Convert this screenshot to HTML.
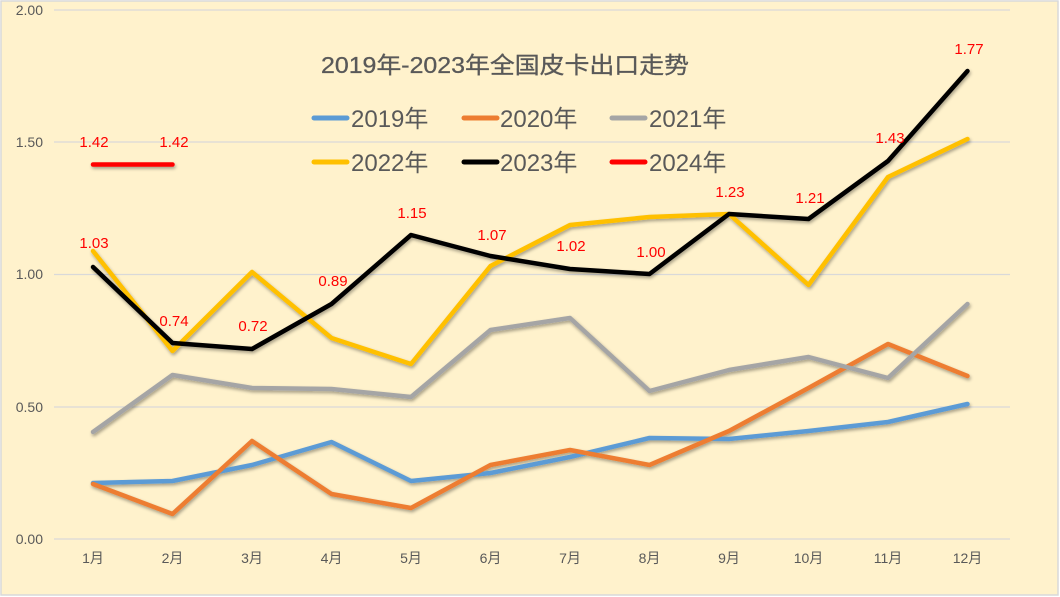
<!DOCTYPE html>
<html><head><meta charset="utf-8"><style>
body{margin:0;background:#fff}
svg{display:block;font-family:"Liberation Sans","Noto Sans CJK SC",sans-serif}
</style></head><body>
<svg width="1060" height="597" viewBox="0 0 1060 597">
<defs><filter id="sh" x="-5%" y="-5%" width="110%" height="120%"><feDropShadow dx="1" dy="2" stdDeviation="1.5" flood-color="#000" flood-opacity="0.35"/></filter></defs>
<rect x="1" y="1" width="1057" height="594" fill="#FFF2CC" stroke="#d9d9d9" stroke-width="1.5"/>
<g stroke="#d9d9d9" stroke-width="1.2">
<line x1="54" x2="1010" y1="10" y2="10"/><line x1="54" x2="1010" y1="142" y2="142"/><line x1="54" x2="1010" y1="274.5" y2="274.5"/><line x1="54" x2="1010" y1="407" y2="407"/><line x1="54" x2="1010" y1="539" y2="539"/>
</g>
<g fill="#595959" font-size="14" text-anchor="end">
<text x="43" y="15">2.00</text><text x="43" y="147">1.50</text><text x="43" y="279">1.00</text><text x="43" y="412">0.50</text><text x="43" y="544">0.00</text>
</g>
<g fill="#595959" font-size="14" text-anchor="middle">
<text x="93" y="563">1月</text><text x="172.5" y="563">2月</text><text x="252" y="563">3月</text><text x="331.5" y="563">4月</text><text x="411" y="563">5月</text><text x="490.5" y="563">6月</text><text x="570" y="563">7月</text><text x="649.5" y="563">8月</text><text x="729" y="563">9月</text><text x="808.5" y="563">10月</text><text x="888" y="563">11月</text><text x="967.5" y="563">12月</text>
</g>
<text x="505" y="73" text-anchor="middle" font-size="23" fill="#595959" stroke="#595959" stroke-width="0.3" textLength="368" lengthAdjust="spacingAndGlyphs">2019年-2023年全国皮卡出口走势</text>
<g font-size="24" fill="#595959" stroke-linecap="round" stroke-width="5">
<line x1="314" x2="347" y1="118" y2="118" stroke="#5B9BD5"/><text x="351" y="127">2019年</text>
<line x1="464" x2="497" y1="118" y2="118" stroke="#ED7D31"/><text x="500" y="127">2020年</text>
<line x1="612" x2="645" y1="118" y2="118" stroke="#A5A5A5"/><text x="649" y="127">2021年</text>
<line x1="314" x2="347" y1="162" y2="162" stroke="#FFC000"/><text x="351" y="171">2022年</text>
<line x1="464" x2="497" y1="162" y2="162" stroke="#000"/><text x="500" y="171">2023年</text>
<line x1="612" x2="645" y1="162" y2="162" stroke="#FF0000"/><text x="649" y="171">2024年</text>
</g>
<g fill="none" stroke-width="4.5" stroke-linejoin="round" stroke-linecap="round" filter="url(#sh)">
<polyline stroke="#5B9BD5" points="93,483 172.5,481 252,465 331.5,442 411,481 490.5,473 570,457 649.5,438 729,439 808.5,431 888,422 967.5,404"/>
<polyline stroke="#ED7D31" points="93,484 172.5,514 252,441 331.5,494 411,508 490.5,465 570,450 649.5,465 729,431 808.5,388 888,344 967.5,376"/>
<polyline stroke="#A5A5A5" points="93,432 172.5,375 252,388 331.5,389 411,397 490.5,330 570,318 649.5,391 729,370 808.5,357 888,378 967.5,304"/>
<polyline stroke="#FFC000" points="93,251 172.5,351 252,272 331.5,338 411,364 490.5,266 570,225 649.5,217 729,214 808.5,285 888,177 967.5,139"/>
<polyline stroke="#000" points="93,267 172.5,343 252,349 331.5,304 411,235 490.5,256 570,269 649.5,274 729,214 808.5,219 888,161 967.5,71"/>
<polyline stroke="#FF0000" points="93,164.5 172.5,164.5"/>
</g>
<g fill="#FF0000" font-size="15" text-anchor="middle">
<text x="94" y="147">1.42</text><text x="174" y="147">1.42</text>
<text x="94" y="248">1.03</text><text x="174" y="326">0.74</text><text x="253" y="331">0.72</text><text x="333" y="286">0.89</text><text x="412" y="218">1.15</text><text x="492" y="240">1.07</text><text x="571" y="251">1.02</text><text x="651" y="257">1.00</text><text x="730" y="197">1.23</text><text x="810" y="203">1.21</text><text x="890" y="143">1.43</text><text x="969" y="54">1.77</text>
</g>
</svg>
</body></html>
